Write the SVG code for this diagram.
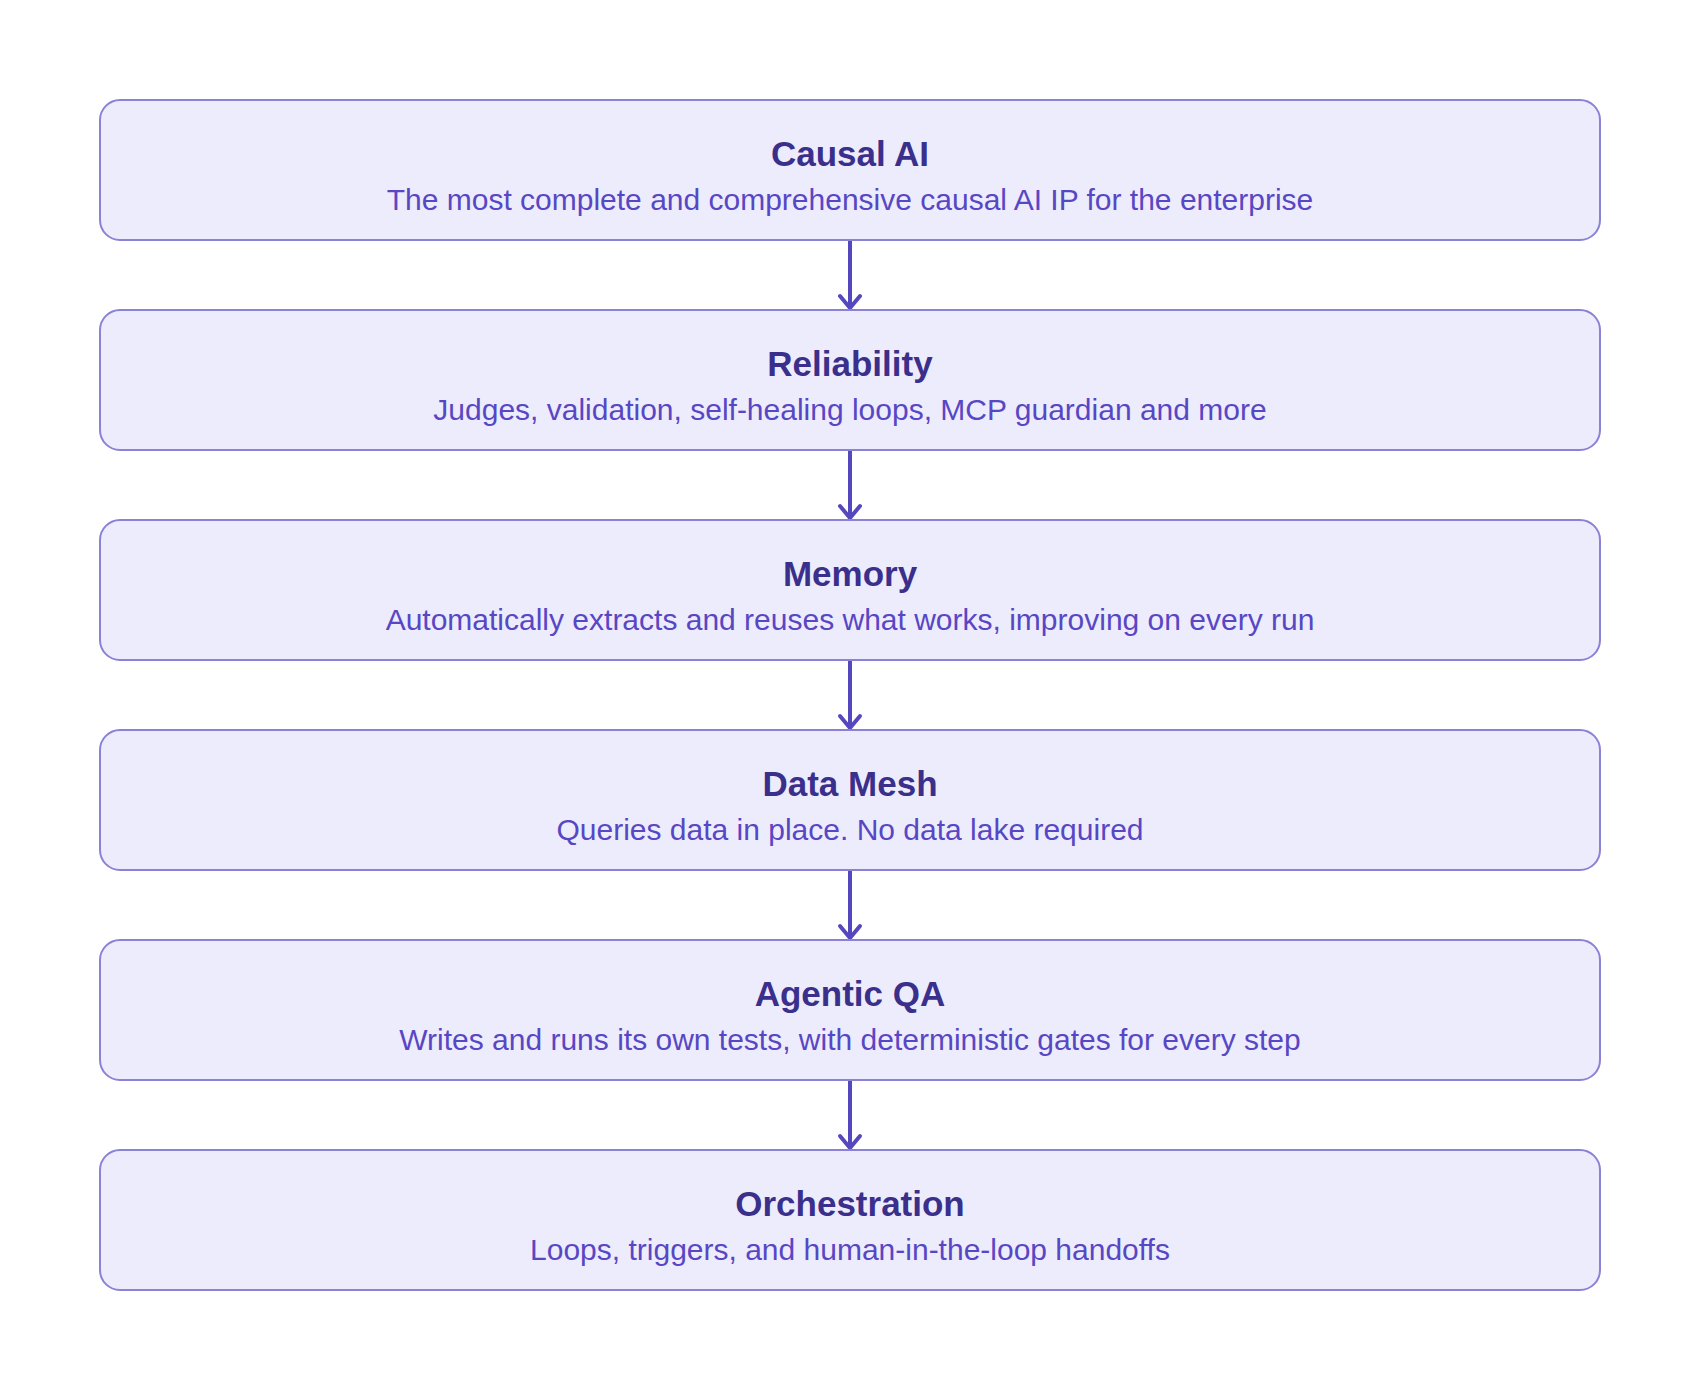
<svg xmlns="http://www.w3.org/2000/svg" width="1700" height="1390" viewBox="0 0 1700 1390">
<defs>
<style>
.box{fill:#edecfc;stroke:#8a82d6;stroke-width:2}
.t{font-family:"Liberation Sans",Arial,sans-serif;font-weight:bold;font-size:35px;fill:#3b2f8c;text-anchor:middle}
.s{font-family:"Liberation Sans",Arial,sans-serif;font-size:30px;fill:#5847c4;text-anchor:middle}
.c{stroke:#5547bd;stroke-width:4;fill:none;stroke-linecap:round;stroke-linejoin:round}
</style>
</defs>
<rect width="1700" height="1390" fill="#ffffff"/>
<g id="connectors">
<path class="c" d="M850 240V307M840 296L850 308L860 296"/>
<path class="c" d="M850 450V517M840 506L850 518L860 506"/>
<path class="c" d="M850 660V727M840 716L850 728L860 716"/>
<path class="c" d="M850 870V937M840 926L850 938L860 926"/>
<path class="c" d="M850 1080V1147M840 1136L850 1148L860 1136"/>
</g>
<g id="causal-ai">
<rect class="box" x="100" y="100" width="1500" height="140" rx="20"/>
<text class="t" x="850" y="166">Causal AI</text>
<text class="s" x="850" y="210">The most complete and comprehensive causal AI IP for the enterprise</text>
</g>
<g id="reliability">
<rect class="box" x="100" y="310" width="1500" height="140" rx="20"/>
<text class="t" x="850" y="376">Reliability</text>
<text class="s" x="850" y="420">Judges, validation, self-healing loops, MCP guardian and more</text>
</g>
<g id="memory">
<rect class="box" x="100" y="520" width="1500" height="140" rx="20"/>
<text class="t" x="850" y="586">Memory</text>
<text class="s" x="850" y="630">Automatically extracts and reuses what works, improving on every run</text>
</g>
<g id="data-mesh">
<rect class="box" x="100" y="730" width="1500" height="140" rx="20"/>
<text class="t" x="850" y="796">Data Mesh</text>
<text class="s" x="850" y="840">Queries data in place. No data lake required</text>
</g>
<g id="agentic-qa">
<rect class="box" x="100" y="940" width="1500" height="140" rx="20"/>
<text class="t" x="850" y="1006">Agentic QA</text>
<text class="s" x="850" y="1050">Writes and runs its own tests, with deterministic gates for every step</text>
</g>
<g id="orchestration">
<rect class="box" x="100" y="1150" width="1500" height="140" rx="20"/>
<text class="t" x="850" y="1216">Orchestration</text>
<text class="s" x="850" y="1260">Loops, triggers, and human-in-the-loop handoffs</text>
</g>
</svg>
